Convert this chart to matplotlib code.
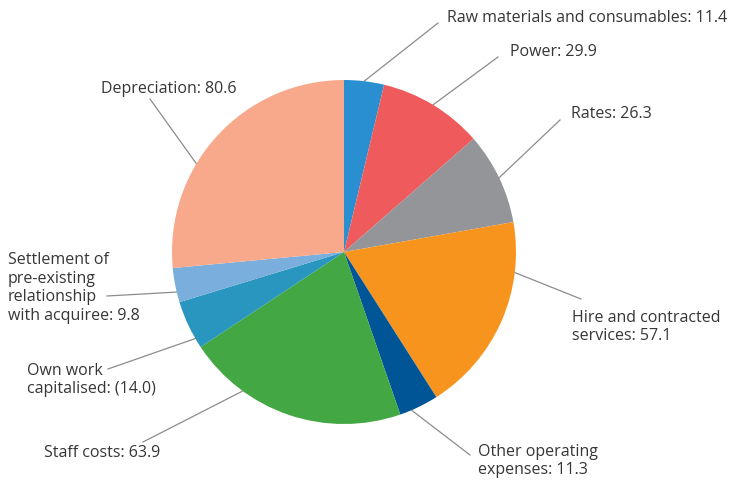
import numpy as np
import matplotlib
matplotlib.use("Agg")
import matplotlib.pyplot as plt

# operating expense breakdown ($m)
labels = ["Raw materials and consumables: 11.4", "Power: 29.9", "Rates: 26.3",
          "Hire and contracted\nservices: 57.1", "Other operating\nexpenses: 11.3",
          "Staff costs: 63.9", "Own work\ncapitalised: (14.0)",
          "Settlement of\npre-existing\nrelationship\nwith acquiree: 9.8",
          "Depreciation: 80.6"]
values = [11.4, 29.9, 26.3, 57.1, 11.3, 63.9, -14.0, 9.8, 80.6]
colors = ["#2a8fd0", "#ef5b5c", "#939598", "#f7941d", "#005596",
          "#43a843", "#2996bf", "#7aaedc", "#f8a98b"]

W, H = 731, 481
CX, CY, R = 344, 253, 172

# label layout in pixel coords: text anchor, leader start, position along the wedge
text_pos = [(447, 18), (510, 52), (571, 114), (572, 327), (478, 461),
            (44, 453), (27, 380), (8, 288), (101, 89)]
leader_start = [(438, 24), (498, 58), (560, 121), (581, 300), (470, 456),
                (143, 443), (108, 370), (107, 297), (150, 100)]
wedge_frac = [0.5, 0.5, 0.5, 0.25, 0.7, 0.73, 0.2, 0.3, 0.38]


def px(x, y):
    return x, H - y


fig = plt.figure(figsize=(W / 100, H / 100), dpi=100)
ax = fig.add_axes([0, 0, 1, 1])

sizes = np.abs(values)
wedges, _ = ax.pie(sizes, colors=colors, startangle=90, counterclock=False,
                   center=px(CX, CY), radius=R, frame=True,
                   wedgeprops=dict(linewidth=0))
ax.set_xlim(0, W)
ax.set_ylim(0, H)
ax.set_aspect("equal")
ax.axis("off")

for w, lab, tp, ls, f in zip(wedges, labels, text_pos, leader_start, wedge_frac):
    # theta1 -> theta2 runs counter-clockwise; wedges go clockwise from the top
    t1, t2 = w.theta1, w.theta2
    ang = np.deg2rad(t2 - f * (t2 - t1))
    ex, ey = w.center[0] + w.r * np.cos(ang), w.center[1] + w.r * np.sin(ang)
    sx, sy = px(*ls)
    ax.plot([sx, ex], [sy, ey], color="#8c8c8c", lw=0.9, zorder=0.5)
    tx, ty = px(*tp)
    ax.text(tx, ty, lab, ha="left", va="center", fontsize=11.5, color="#363636",
            family=["Open Sans", "DejaVu Sans"], linespacing=1.2)

fig.savefig("out.png", dpi=100)
